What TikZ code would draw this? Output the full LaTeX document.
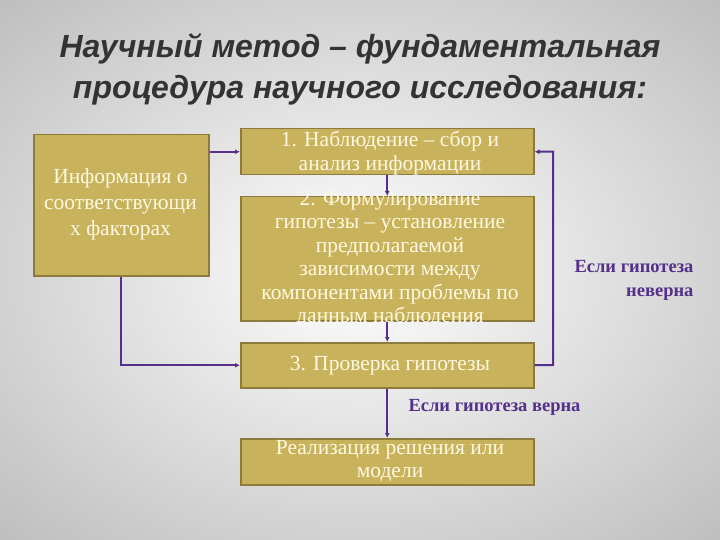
\documentclass[tikz,border=0pt]{standalone}
\usepackage{fontspec}
\setmainfont{Liberation Serif}
\newfontfamily\titlefont{Liberation Sans}
\usetikzlibrary{arrows.meta}
\definecolor{gold}{HTML}{C8B35C}
\definecolor{goldb}{HTML}{8C7B3C}
\definecolor{purp}{HTML}{55308A}
\definecolor{cream}{HTML}{FFF8E0}
\tikzset{
  box/.style={draw=goldb, line width=1.5pt, fill=gold, inner sep=0pt},
  btxt/.style={text=cream, align=center, inner sep=0pt, font=\fontsize{21.5}{23.5}\selectfont},
  conn/.style={draw=purp, line width=2pt, -{Latex[length=5pt,width=5pt]}},
  lab/.style={text=purp, font=\bfseries\fontsize{18.5}{24}\selectfont}
}
\begin{document}
\begin{tikzpicture}[x=1pt,y=-1pt]
\useasboundingbox (0,0) rectangle (720,540);
\shade[inner color=white, outer color=black!25] (-150,-100) rectangle (870,640);
\node[text=black!80, align=center, font=\titlefont\bfseries\itshape\fontsize{32}{41}\selectfont] (title) at (360,69) {Научный метод – фундаментальная\\ процедура научного исследования:};
\node[box, minimum width=175, minimum height=141, anchor=north west] (info) at (33,134) {};
\node[btxt, font=\fontsize{21.5}{26}\selectfont] (infot) at (120.5,204) {Информация о\\ соответствующи\\ х факторах};
\node[box, minimum width=293, minimum height=46, anchor=north west] (b1) at (240,128) {};
\node[btxt] (b1t) at (390,153) {1. Наблюдение – сбор и\\ анализ информации};
\node[box, minimum width=293, minimum height=124, anchor=north west] (b2) at (240,196) {};
\node[btxt] (b2t) at (390,259) {2. Формулирование\\ гипотезы – установление\\ предполагаемой\\ зависимости между\\ компонентами проблемы по\\ данным наблюдения};
\node[box, minimum width=293, minimum height=45, anchor=north west] (b3) at (240,342) {};
\node[btxt] (b3t) at (390,366) {3. Проверка гипотезы};
\node[box, minimum width=293, minimum height=46, anchor=north west] (b4) at (240,438) {};
\node[btxt] (b4t) at (390,461) {Реализация решения или\\ модели};
\draw[conn] (info.east |- b1.west) -- (b1.west);
\draw[conn] (info.south) -- (info.south |- b3.west) -- (b3.west);
\draw[conn] (b1.south) -- (b2.north);
\draw[conn] (b2.south) -- (b3.north);
\draw[conn] (b3.south) -- (b4.north);
\coordinate (r) at (553,365);
\draw[conn] (b3.east) -- (r) -- (r |- b1.east) -- (b1.east);
\node[lab, anchor=west] (l1) at (405,407) {Если гипотеза верна};
\node[lab, align=right, anchor=east] (l2) at (697,280) {Если гипотеза\\ неверна};
\end{tikzpicture}
\end{document}
